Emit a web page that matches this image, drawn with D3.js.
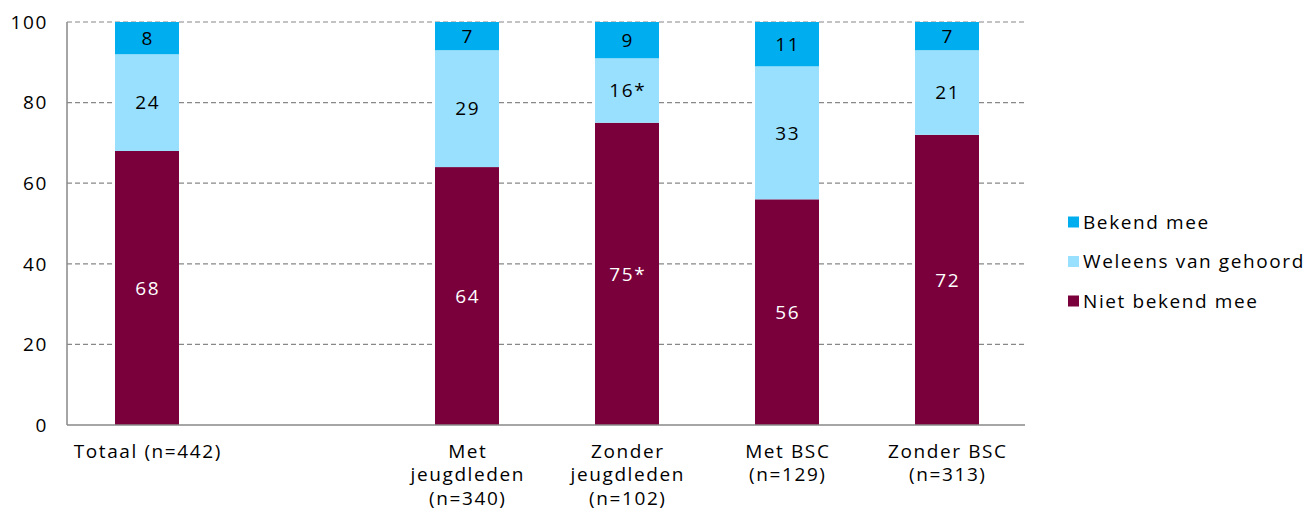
<!DOCTYPE html>
<html><head><meta charset="utf-8">
<script src="https://cdn.jsdelivr.net/npm/d3@7"></script>
<style>body{margin:0;background:#fff;} text{font-family:"Open Sans",sans-serif;letter-spacing:1.6px;}</style>
</head><body>
<svg id="chart" width="1305" height="511"></svg>
<script>
const categories = ["Totaal (n=442)", "", "Met jeugdleden (n=340)", "Zonder jeugdleden (n=102)", "Met BSC (n=129)", "Zonder BSC (n=313)"];
const categoryLines = [["Totaal (n=442)"], [], ["Met", "jeugdleden", "(n=340)"], ["Zonder", "jeugdleden", "(n=102)"], ["Met BSC", "(n=129)"], ["Zonder BSC", "(n=313)"]];
const seriesNames = ["Niet bekend mee", "Weleens van gehoord", "Bekend mee"];
const nietBekend = [68, null, 64, 75, 56, 72];
const weleens = [24, null, 29, 16, 33, 21];
const bekend = [8, null, 7, 9, 11, 7];
const nietLabels = ["68", "", "64", "75*", "56", "72"];
const weleensLabels = ["24", "", "29", "16*", "33", "21"];
const bekendLabels = ["8", "", "7", "9", "11", "7"];
const yTicks = [0, 20, 40, 60, 80, 100];

const colors = ["#7A003C", "#98E0FE", "#00AEEF"];
const textColors = ["#ffffff", "#000000", "#000000"];
const seriesVals = [nietBekend, weleens, bekend];
const seriesLabels = [nietLabels, weleensLabels, bekendLabels];

const FS = 19;
const svg = d3.select("#chart");
const mLeft = 67, mRight = 1027, mTop = 22, mBottom = 425;
const x = d3.scaleBand().domain(categories.map((c,i)=>i)).range([mLeft, mRight]).paddingInner(0.6).paddingOuter(0.3);
const y = d3.scaleLinear().domain([0, 100]).range([mBottom, mTop]);

// gridlines
svg.append("g").selectAll("line").data(yTicks.filter(t=>t>0)).join("line")
  .attr("x1", mLeft).attr("x2", 1025).attr("y1", d=>y(d)).attr("y2", d=>y(d))
  .attr("stroke", "#888").attr("stroke-width", 1.2).attr("stroke-dasharray", "5,3");

// bars
const rows = categories.map((c,i)=>{
  let base = 0;
  return seriesVals.map((s,k)=>{
    const v = s[i]; const seg = {i, k, y0: base, y1: base + (v||0), v, label: seriesLabels[k][i]};
    base += (v||0); return seg;
  });
}).flat().filter(d=>d.v != null);

svg.append("g").selectAll("rect").data(rows).join("rect")
  .attr("x", d=>x(d.i)).attr("width", x.bandwidth())
  .attr("y", d=>y(d.y1)).attr("height", d=>y(d.y0)-y(d.y1))
  .attr("fill", d=>colors[d.k]);

svg.append("g").selectAll("text").data(rows).join("text")
  .attr("x", d=>x(d.i)+x.bandwidth()/2 + 0.8).attr("y", d=>(y(d.y0)+y(d.y1))/2)
  .attr("dy", "0.36em").attr("text-anchor", "middle")
  .attr("font-size", FS).attr("fill", d=>textColors[d.k]).text(d=>d.label);

// axes lines
svg.append("line").attr("x1", mLeft).attr("x2", mLeft).attr("y1", mTop).attr("y2", mBottom).attr("stroke", "#888").attr("stroke-width", 1.5);
svg.append("line").attr("x1", mLeft).attr("x2", 1025).attr("y1", mBottom).attr("y2", mBottom).attr("stroke", "#888").attr("stroke-width", 1.5);

// y tick labels
svg.append("g").selectAll("text").data(yTicks).join("text")
  .attr("x", 48).attr("y", d=>y(d)).attr("dy", "0.36em").attr("text-anchor", "end")
  .attr("font-size", FS).attr("fill", "#000").text(d=>d);

// category labels
const cl = svg.append("g").selectAll("text").data(categoryLines.map((l,i)=>({l,i}))).join("text")
  .attr("text-anchor", "middle").attr("font-size", FS).attr("fill", "#000");
cl.selectAll("tspan").data(d=>d.l.map((t,j)=>({t,j,i:d.i}))).join("tspan")
  .attr("x", d=>x(d.i)+x.bandwidth()/2 + 0.8).attr("y", d=>451 + d.j*23.5).attr("dy", "0.36em").text(d=>d.t);

// legend
const legendOrder = [2, 1, 0];
const lg = svg.append("g").selectAll("g").data(legendOrder).join("g")
  .attr("transform", (d,j)=>`translate(1068,${222 + j*39.5})`);
lg.append("rect").attr("x", 0).attr("y", -5.5).attr("width", 11).attr("height", 11).attr("fill", d=>colors[d]);
lg.append("text").attr("x", 15).attr("y", 0).attr("dy", "0.36em").attr("font-size", FS).attr("fill", "#000").text(d=>seriesNames[d]);
</script>
</body></html>
